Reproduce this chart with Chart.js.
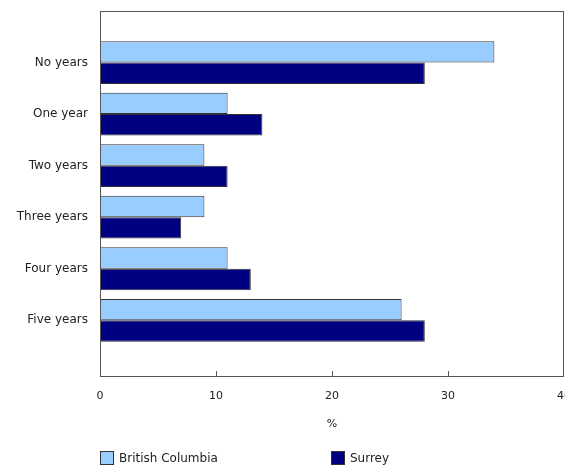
<!DOCTYPE html>
<html>
<head>
<meta charset="utf-8">
<script src="https://cdn.jsdelivr.net/npm/chart.js@4"></script>
<style>
  body{margin:0;background:#fff;}
  #wrap{position:relative;width:565px;height:466px;}
  .leg{position:absolute;top:451px;font:12px "DejaVu Sans",Verdana,sans-serif;color:#222;display:flex;align-items:center;}
  .leg span.box{display:inline-block;width:12px;height:12px;border:1px solid #333;margin-right:5px;}
</style>
</head>
<body>
<div id="wrap">
  <canvas id="myChart" width="565" height="466"></canvas>
  <div class="leg" style="left:100px"><span class="box" style="background:#99ccff"></span>British Columbia</div>
  <div class="leg" style="left:331px"><span class="box" style="background:#000080"></span>Surrey</div>
</div>
<script>
/*
*Chart data
*/
const categories = ['No years','One year','Two years','Three years','Four years','Five years'];
const bcValues = [34, 11, 9, 9, 11, 26];
const surreyValues = [28, 14, 11, 7, 13, 28];
const xTicks = [0, 10, 20, 30, 40];

const colors = {
    BC: '#99ccff',
    SURREY: '#000080',
    EDGE: '#333333',
    FRAME: '#555555',
    TEXT: '#222222'
}

/*
*Frame round the plot and small inward ticks on the x axis
*/
const framePlugin = {
    id: 'frame',
    afterDraw(chart){
        const ctx = chart.ctx;
        const a = chart.chartArea;
        const xs = chart.scales.x;
        ctx.save();
        ctx.strokeStyle = colors.FRAME;
        ctx.lineWidth = 1;
        ctx.strokeRect(a.left + 0.5, a.top + 0.5, a.right - a.left - 1, a.bottom - a.top - 1);
        ctx.beginPath();
        for(let i=1;i<xTicks.length-1;i++){
            const px = Math.round(xs.getPixelForValue(xTicks[i])) + 0.5;
            ctx.moveTo(px, a.bottom);
            ctx.lineTo(px, a.bottom - 6);
        }
        ctx.stroke();
        ctx.restore();
    }
};

function toPoints(values){
    return values.map((v,i) => ({x: v, y: i}));
}

function drawGraphic(){
  const font = {family: '"DejaVu Sans", Verdana, sans-serif', size: 11};
  const catFont = {family: '"DejaVu Sans", Verdana, sans-serif', size: 12};
  const ctx = document.getElementById('myChart').getContext('2d');
  new Chart(ctx, {
    type: 'bar',
    data: {
      datasets: [{
        label: 'British Columbia',
        data: toPoints(bcValues),
        backgroundColor: colors.BC,
        borderColor: colors.EDGE,
        borderWidth: 1
      },{
        label: 'Surrey',
        data: toPoints(surreyValues),
        backgroundColor: colors.SURREY,
        borderColor: colors.EDGE,
        borderWidth: 1
      }]
    },
    options: {
      indexAxis: 'y',
      responsive: false,
      animation: false,
      categoryPercentage: 0.83,
      barPercentage: 1.0,
      layout: {padding: {top: 11, right: 1, left: 0, bottom: 29}},
      plugins: {
        legend: {display: false},
        tooltip: {enabled: false}
      },
      scales: {
        x: {
          min: 0,
          max: 40,
          afterBuildTicks: s => { s.ticks = xTicks.map(v => ({value: v})); },
          afterFit: s => { s.height = 60; s.paddingLeft = 0; s.paddingRight = 0; },
          grid: {display: false, drawTicks: false},
          border: {display: false},
          ticks: {padding: 13, color: colors.TEXT, font: font, maxRotation: 0},
          title: {display: true, text: '%', color: colors.TEXT, font: font, padding: {top: 0, bottom: 6}}
        },
        y: {
          type: 'linear',
          offset: false,
          reverse: true,
          min: -1,
          max: 6.1,
          afterBuildTicks: s => { s.ticks = categories.map((c,i) => ({value: i})); },
          afterFit: s => { s.width = 100; s.paddingTop = 0; s.paddingBottom = 0; },
          grid: {display: false, offset: false, drawTicks: false},
          border: {display: false},
          ticks: {
            padding: 12,
            color: colors.TEXT,
            font: catFont,
            callback: v => categories[v] ?? ''
          }
        }
      }
    },
    plugins: [framePlugin]
  });
}

drawGraphic();
</script>
</body>
</html>
